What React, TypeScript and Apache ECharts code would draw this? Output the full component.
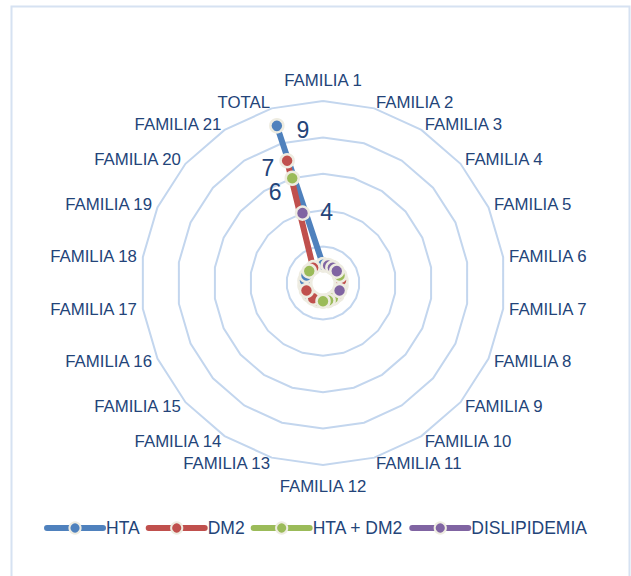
import React, { useEffect, useRef } from "react";
import * as echarts from "echarts";

// Categories (clockwise from the top): FAMILIA 1 .. FAMILIA 21, then TOTAL
const categories: string[] = [
  "FAMILIA 1", "FAMILIA 2", "FAMILIA 3", "FAMILIA 4", "FAMILIA 5", "FAMILIA 6",
  "FAMILIA 7", "FAMILIA 8", "FAMILIA 9", "FAMILIA 10", "FAMILIA 11", "FAMILIA 12",
  "FAMILIA 13", "FAMILIA 14", "FAMILIA 15", "FAMILIA 16", "FAMILIA 17", "FAMILIA 18",
  "FAMILIA 19", "FAMILIA 20", "FAMILIA 21", "TOTAL",
];

// Series values (null = empty cell, drawn as a gap)
const hta: (number | null)[] = [1, null, null, null, 1, null, 1, null, 1, null, 1, null, null, null, 1, null, 1, 1, 1, null, null, 9];
const dm2: (number | null)[] = [null, null, null, null, null, 1, null, null, 1, 1, null, null, 1, 1, null, 1, null, null, null, null, 1, 7];
const htaDm2: (number | null)[] = [null, null, 1, null, 1, null, null, null, null, 1, 1, 1, null, null, null, null, null, null, null, 1, null, 6];
const dislipidemia: (number | null)[] = [null, 1, 1, 1, null, null, null, 1, null, null, null, null, null, null, null, null, null, null, null, null, null, 4];

const seriesNames = ["HTA", "DM2", "HTA + DM2", "DISLIPIDEMIA"];
const seriesColors = ["#4F81BD", "#C0504D", "#9BBB59", "#8064A2"];
const seriesValues = [hta, dm2, htaDm2, dislipidemia];
// label placement of the TOTAL value for each series
const totalLabelPos: { position: string; distance: number; offset: number[] }[] = [
  { position: "right", distance: 12, offset: [0, 4] },
  { position: "left", distance: 5, offset: [0, 7] },
  { position: "left", distance: 3, offset: [0, 14] },
  { position: "right", distance: 10, offset: [0, -1] },
];

const radialMax = 10;
const FONT = "Liberation Sans";
const TEXT_COLOR = "#234479";

export default function App() {
  const ref = useRef<HTMLDivElement>(null);
  useEffect(() => {
    if (!ref.current) return;
    const chart = echarts.init(ref.current, null, { renderer: "svg" });
    const n = categories.length;
    const cx = 323;
    const cy = 283;
    const R = 182;

    // ECharts radar lays indicators counter-clockwise, so reverse after the first
    const radarOrder = [0, ...Array.from({ length: n - 1 }, (_, k) => n - 1 - k)];
    const indicator = radarOrder.map((i) => ({ name: categories[i], min: 0, max: radialMax }));

    const series = seriesValues.map((vals, s) => {
      const data: any[] = [];
      for (let i = 0; i <= n; i++) {
        const idx = i % n;
        const v = vals[idx];
        const item: any = { value: [v === null ? "-" : v, i] };
        if (idx === n - 1 && i === n - 1) {
          item.label = {
            show: true,
            position: totalLabelPos[s].position,
            distance: totalLabelPos[s].distance,
            offset: totalLabelPos[s].offset,
            formatter: String(v),
            fontSize: 23,
            fontFamily: FONT,
            color: TEXT_COLOR,
          };
        }
        data.push(item);
      }
      return {
        type: "line",
        name: seriesNames[s],
        coordinateSystem: "polar",
        data,
        connectNulls: false,
        showSymbol: true,
        showAllSymbol: true,
        symbol: "circle",
        symbolSize: 13,
        z: 5,
        lineStyle: { color: seriesColors[s], width: 6, cap: "round", join: "round" },
        itemStyle: { color: seriesColors[s], borderColor: "#EEECE1", borderWidth: 2.5 },
        emphasis: { disabled: true },
      };
    });

    chart.setOption({
      animation: false,
      backgroundColor: "#ffffff",
      graphic: [
        {
          type: "rect",
          shape: { x: 11.5, y: 6.5, width: 618, height: 620 },
          style: { fill: "none", stroke: "#D6E2F2", lineWidth: 2 },
          silent: true,
          z: 0,
        },
      ],
      radar: {
        center: [cx, cy],
        radius: R,
        startAngle: 90,
        splitNumber: 5,
        shape: "polygon",
        indicator,
        nameGap: 6,
        axisName: { color: TEXT_COLOR, fontSize: 16.8, fontFamily: FONT, lineHeight: 30 },
        axisLine: { show: false },
        axisTick: { show: false },
        axisLabel: { show: false },
        splitArea: { show: false },
        splitLine: { lineStyle: { color: "#C3D6EE", width: 2 } },
      },
      polar: { center: [cx, cy], radius: R },
      angleAxis: {
        type: "value",
        min: 0,
        max: n,
        startAngle: 90,
        clockwise: true,
        show: false,
      },
      radiusAxis: { type: "value", min: 0, max: radialMax, show: false },
      legend: {
        data: seriesNames,
        top: 514,
        left: "center",
        itemWidth: 56,
        itemHeight: 14,
        itemGap: 6,
        lineStyle: { width: 6, cap: "round" },
        textStyle: { fontSize: 17.5, fontFamily: FONT, color: TEXT_COLOR, padding: [0, 0, 0, -2] },
      },
      series,
    });
    return () => chart.dispose();
  }, []);
  return (
    <div
      ref={ref}
      style={{ position: "absolute", left: 0, top: 0, width: 631, height: 576 }}
    />
  );
}
